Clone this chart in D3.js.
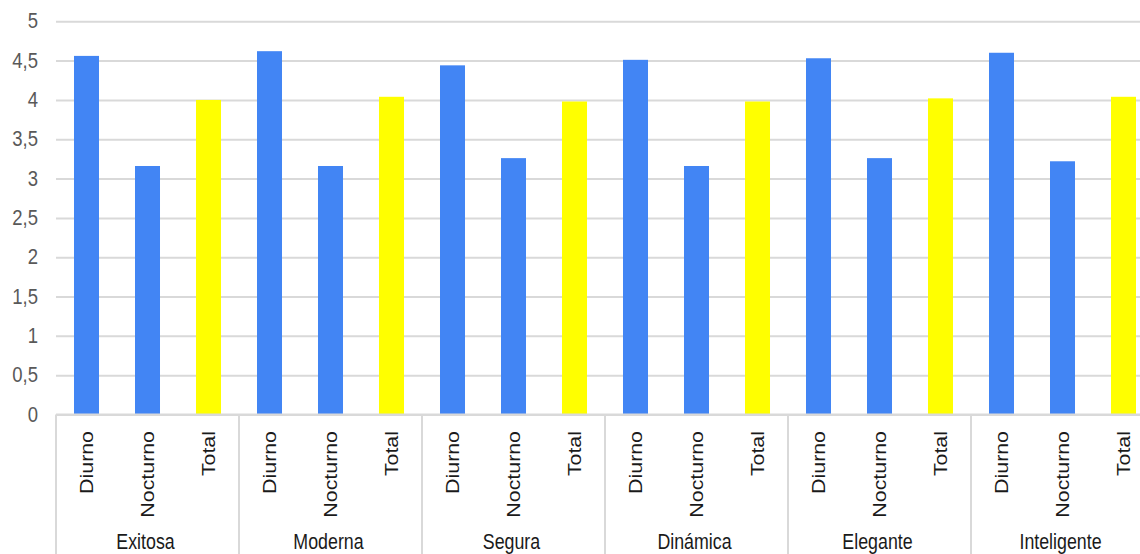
<!DOCTYPE html>
<html>
<head>
<meta charset="utf-8">
<script src="https://cdn.jsdelivr.net/npm/d3@7"></script>
<style>
  html, body { margin: 0; padding: 0; background: #fff; }
  svg { display: block; }
  text { font-family: "Liberation Sans", Arial, sans-serif; }
</style>
</head>
<body>
<svg id="chart" width="1140" height="554"></svg>
<script>
const categories = ["Exitosa", "Moderna", "Segura", "Dinámica", "Elegante", "Inteligente"];
const seriesNames = ["Diurno", "Nocturno", "Total"];
const diurno   = [4.56, 4.62, 4.44, 4.51, 4.53, 4.60];
const nocturno = [3.16, 3.16, 3.26, 3.16, 3.26, 3.22];
const total    = [4.00, 4.04, 3.98, 3.98, 4.02, 4.04];
const yTickValues = [0, 0.5, 1, 1.5, 2, 2.5, 3, 3.5, 4, 4.5, 5];
const yTickLabels = ["0", "0,5", "1", "1,5", "2", "2,5", "3", "3,5", "4", "4,5", "5"];
const seriesColors = ["#4285f4", "#4285f4", "#ffff00"];

const seriesValues = [diurno, nocturno, total];
const svg = d3.select("#chart");
const W = 1140;
const left = 56, groupW = 183;
const stretch = 1.2;

const x0 = d3.scaleBand().domain(categories).range([left, left + groupW * categories.length]).padding(0);
const x1 = d3.scaleBand().domain(seriesNames).range([0, x0.bandwidth()]).paddingInner(0.59).paddingOuter(0.295);
const y = d3.scaleLinear().domain([0, 5]).range([414.5, 21.3]);

// gridlines + y tick labels
const yAxis = d3.axisLeft(y)
  .tickValues(yTickValues)
  .tickFormat((d, i) => yTickLabels[i])
  .tickSize(-(W - left))
  .tickPadding(18);
const gy = svg.append("g").attr("transform", `translate(${left},0)`).call(yAxis);
gy.select(".domain").remove();
gy.selectAll(".tick line").attr("stroke", "#d9d9d9").attr("stroke-width", 2);
gy.selectAll(".tick text")
  .attr("fill", "#595959")
  .attr("font-size", 18.5)
  .attr("transform", `scale(1,${stretch})`)
  .attr("dy", "0.3em")
  .attr("y", 0);

// bars
const groups = svg.append("g").selectAll("g")
  .data(categories)
  .join("g")
  .attr("transform", d => `translate(${x0(d)},0)`);

groups.selectAll("rect")
  .data((c, ci) => seriesNames.map((s, si) => ({ s, si, v: seriesValues[si][ci] })))
  .join("rect")
  .attr("x", d => x1(d.s))
  .attr("width", x1.bandwidth())
  .attr("y", d => y(d.v))
  .attr("height", d => y(0) - y(d.v))
  .attr("fill", d => seriesColors[d.si]);

// x axis baseline
svg.append("line")
  .attr("x1", left).attr("x2", W)
  .attr("y1", y(0)).attr("y2", y(0))
  .attr("stroke", "#d9d9d9").attr("stroke-width", 2);

// group dividers
const dividers = categories.map(c => x0(c)).concat([x0(categories[categories.length - 1]) + x0.bandwidth()]);
svg.append("g").selectAll("line")
  .data(dividers)
  .join("line")
  .attr("x1", d => d).attr("x2", d => d)
  .attr("y1", y(0)).attr("y2", 554)
  .attr("stroke", "#d9d9d9").attr("stroke-width", 2);

// series labels (rotated)
groups.selectAll("text.series")
  .data(seriesNames)
  .join("text")
  .attr("class", "series")
  .attr("transform", d => `translate(${x1(d) + x1.bandwidth() / 2},431) scale(1,${stretch}) rotate(-90)`)
  .attr("text-anchor", "end")
  .attr("dy", "0.36em")
  .attr("font-size", 17.8)
  .attr("fill", "#1a1a1a")
  .text(d => d);

// category labels
groups.append("text")
  .attr("transform", `translate(${x0.bandwidth() / 2 - 2},549) scale(1,${stretch})`)
  .attr("text-anchor", "middle")
  .attr("font-size", 17.8)
  .attr("fill", "#1a1a1a")
  .text(d => d);
</script>
</body>
</html>
